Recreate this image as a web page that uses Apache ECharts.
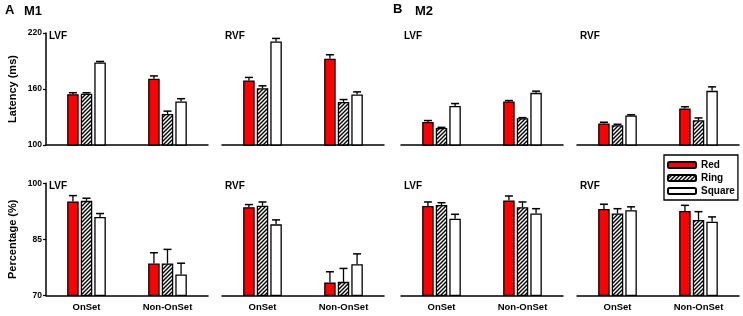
<!DOCTYPE html>
<html><head><meta charset="utf-8">
<script src="https://cdn.jsdelivr.net/npm/echarts@6/dist/echarts.min.js"></script>
<style>html,body{margin:0;padding:0;background:#fff}#c{width:743px;height:316px}</style>
</head><body><div id="c"></div>
<script>
const categories = ['OnSet', 'Non-OnSet'];
const conditions = ['Red', 'Ring', 'Square'];
const latencyTicks = [100, 160, 220];
const percentTicks = [70, 85, 100];

// rows: Red, Ring, Square; columns: OnSet, Non-OnSet
const m1LvfLatency = [[154.5, 171.0], [155.0, 133.3], [188.5, 146.6]];
const m1LvfLatencyErr = [[1.5, 3.0], [1.0, 3.0], [1.0, 3.0]];
const m1RvfLatency = [[169.2, 192.4], [160.9, 146.2], [211.0, 154.1]];
const m1RvfLatencyErr = [[3.2, 4.3], [2.5, 2.5], [3.2, 2.8]];
const m2LvfLatency = [[124.7, 146.6], [118.3, 128.7], [141.9, 155.9]];
const m2LvfLatencyErr = [[1.5, 1.0], [0.6, 0.6], [2.5, 1.8]];
const m2RvfLatency = [[123.0, 139.0], [121.2, 126.5], [131.6, 158.0]];
const m2RvfLatencyErr = [[1.4, 2.0], [1.0, 2.5], [0.8, 4.3]];
const m1LvfPercent = [[95.1, 78.5], [95.3, 78.5], [91.0, 75.6]];
const m1LvfPercentErr = [[1.6, 2.9], [0.7, 3.8], [0.9, 3.0]];
const m1RvfPercent = [[93.6, 73.4], [94.0, 73.6], [89.0, 78.3]];
const m1RvfPercentErr = [[0.7, 2.9], [1.0, 3.6], [1.2, 2.8]];
const m2LvfPercent = [[93.9, 95.4], [94.2, 93.6], [90.5, 91.9]];
const m2LvfPercentErr = [[1.1, 1.2], [0.6, 1.4], [1.2, 1.3]];
const m2RvfPercent = [[93.1, 92.6], [91.9, 90.2], [92.8, 89.7]];
const m2RvfPercentErr = [[1.3, 1.5], [1.3, 2.2], [0.9, 1.3]];

const FONT = "'Liberation Sans', Arial, sans-serif";
const BAR_W = 11.5;
const GAP = 0.18;

function hatchCanvas() {
  const c = document.createElement('canvas');
  c.width = 4; c.height = 4;
  const g = c.getContext('2d');
  g.fillStyle = '#fff'; g.fillRect(0, 0, 4, 4);
  g.strokeStyle = '#000'; g.lineWidth = 1.4;
  g.beginPath();
  g.moveTo(-1, 5); g.lineTo(5, -1);
  g.moveTo(-1, 1); g.lineTo(1, -1);
  g.moveTo(3, 5); g.lineTo(5, 3);
  g.stroke();
  return c;
}
const hatch = { image: hatchCanvas(), repeat: 'repeat' };
const fills = ['#ff0000', hatch, '#ffffff'];

const panels = [
  { means: m1LvfLatency, errs: m1LvfLatencyErr, left: 46, top: 33, row: 0, title: 'LVF', showY: true },
  { means: m1RvfLatency, errs: m1RvfLatencyErr, left: 222, top: 33, row: 0, title: 'RVF', showY: false },
  { means: m2LvfLatency, errs: m2LvfLatencyErr, left: 401, top: 33, row: 0, title: 'LVF', showY: false },
  { means: m2RvfLatency, errs: m2RvfLatencyErr, left: 577, top: 33, row: 0, title: 'RVF', showY: false },
  { means: m1LvfPercent, errs: m1LvfPercentErr, left: 46, top: 183.3, row: 1, title: 'LVF', showY: true },
  { means: m1RvfPercent, errs: m1RvfPercentErr, left: 222, top: 183.3, row: 1, title: 'RVF', showY: false },
  { means: m2LvfPercent, errs: m2LvfPercentErr, left: 401, top: 183.3, row: 1, title: 'LVF', showY: false },
  { means: m2RvfPercent, errs: m2RvfPercentErr, left: 577, top: 183.3, row: 1, title: 'RVF', showY: false }
];

const grid = [], xAxis = [], yAxis = [], series = [], graphic = [];
panels.forEach((p, i) => {
  const ticks = p.row === 0 ? latencyTicks : percentTicks;
  grid.push({ left: p.left, top: p.top, width: 162, height: 112 });
  xAxis.push({
    type: 'category', gridIndex: i, data: categories,
    axisLine: { lineStyle: { color: '#000', width: 1.5 } },
    axisTick: { show: false },
    axisLabel: { show: p.row === 1, color: '#000', fontFamily: FONT, fontWeight: 'bold', fontSize: 9.5, margin: 7 }
  });
  yAxis.push({
    type: 'value', gridIndex: i,
    min: ticks[0], max: ticks[ticks.length - 1], interval: ticks[1] - ticks[0],
    splitLine: { show: false },
    axisLine: { show: p.showY, lineStyle: { color: '#000', width: 1.5 } },
    axisTick: { show: p.showY, length: 3, lineStyle: { color: '#000', width: 1.2 } },
    axisLabel: { show: p.showY, color: '#000', fontFamily: FONT, fontWeight: 'bold', fontSize: 8.5, margin: 4 },
    name: p.showY ? (p.row === 0 ? 'Latency (ms)' : 'Percentage (%)') : '',
    nameLocation: 'middle', nameGap: 28,
    nameTextStyle: { color: '#000', fontFamily: FONT, fontWeight: 'bold', fontSize: 11 }
  });
  conditions.forEach((name, k) => {
    series.push({
      type: 'bar', name, xAxisIndex: i, yAxisIndex: i,
      data: p.means[k], barWidth: BAR_W, barGap: (GAP * 100) + '%',
      itemStyle: { color: fills[k], borderColor: '#000', borderWidth: 1.3 },
      z: 3, silent: true, animation: false
    });
  });
  const ebData = [];
  conditions.forEach((name, k) => {
    categories.forEach((c, j) => ebData.push([j, k, p.means[k][j], p.errs[k][j]]));
  });
  series.push({
    type: 'custom', xAxisIndex: i, yAxisIndex: i, data: ebData,
    encode: { x: 0, y: 2 }, z: 2, silent: true, animation: false,
    renderItem(params, api) {
      const cat = api.value(0), k = api.value(1), m = api.value(2), e = api.value(3);
      const step = BAR_W * (1 + GAP);
      const p0 = api.coord([cat, m]);
      const p1 = api.coord([cat, m + e]);
      const x = p0[0] + (k - 1) * step;
      return { type: 'group', children: [
        { type: 'line', shape: { x1: x, y1: p0[1], x2: x, y2: p1[1] }, style: { stroke: '#000', lineWidth: 1.3 } },
        { type: 'line', shape: { x1: x - 4, y1: p1[1], x2: x + 4, y2: p1[1] }, style: { stroke: '#000', lineWidth: 1.5 } }
      ] };
    }
  });
  graphic.push({
    type: 'text', left: p.left + 3, top: p.top - 2,
    style: { text: p.title, fill: '#000', font: 'bold 10px ' + FONT }
  });
});

graphic.push(
  { type: 'text', left: 5, top: 4, style: { text: 'A', fill: '#000', font: 'bold 13px ' + FONT } },
  { type: 'text', left: 24, top: 5, style: { text: 'M1', fill: '#000', font: 'bold 13px ' + FONT } },
  { type: 'text', left: 393, top: 3, style: { text: 'B', fill: '#000', font: 'bold 13px ' + FONT } },
  { type: 'text', left: 415, top: 5, style: { text: 'M2', fill: '#000', font: 'bold 13px ' + FONT } }
);

const chart = echarts.init(document.getElementById('c'), null, { renderer: 'canvas' });
chart.setOption({
  animation: false,
  backgroundColor: '#fff',
  grid, xAxis, yAxis, series, graphic,
  legend: {
    data: conditions, orient: 'vertical', left: 664, top: 155,
    padding: [4, 3, 3, 3], itemWidth: 28, itemHeight: 6, itemGap: 1,
    borderColor: '#000', borderWidth: 1.3, borderRadius: 0,
    textStyle: { color: '#000', fontFamily: FONT, fontWeight: 'bold', fontSize: 10, lineHeight: 12 },
    selectedMode: false
  }
});
</script></body></html>
